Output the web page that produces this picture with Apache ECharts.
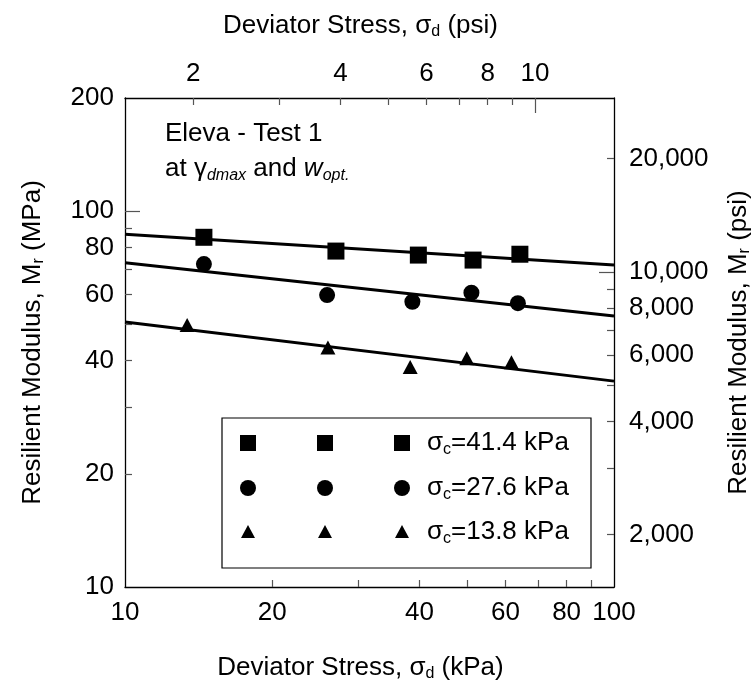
<!DOCTYPE html>
<html>
<head>
<meta charset="utf-8">
<script src="https://cdn.jsdelivr.net/npm/echarts@6/dist/echarts.min.js"></script>
<style>
html, body { margin: 0; padding: 0; background: #fff; }
#main { width: 756px; height: 689px; }
</style>
</head>
<body>
<div id="main"></div>
<script>
// unit conversions for the secondary axes
var KPA_PER_PSI = 6.895;
var PSI_PER_MPA = 145.04;

// measured points, sigma_d (kPa) vs Mr (MPa)
var sq_x = [14.5, 27.0, 39.8, 51.5, 64.2];
var sq_y = [85.2, 78.3, 76.4, 74.1, 76.8];
var ci_x = [14.5, 25.9, 38.7, 51.1, 63.6];
var ci_y = [72.3, 59.8, 57.4, 60.7, 56.9];
var tr_x = [13.4, 26.0, 38.3, 50.0, 61.7];
var tr_y = [49.8, 43.4, 38.5, 40.6, 39.6];

// fitted power lines, ends at 10 and 100 kPa
var fit_x = [10, 100];
var sq_fit = [86.8, 71.9];
var ci_fit = [72.9, 52.6];
var tr_fit = [50.7, 35.3];

var legendNames = ['41.4', '27.6', '13.8'];

// ticks
var kpaTicks = [20, 30, 40, 50, 60, 70, 80, 90];
var kpaLabels = [10, 20, 40, 60, 80, 100];
var psiTopTicks = [2, 3, 4, 5, 6, 7, 8, 9];
var psiTopLabels = [2, 4, 6, 8, 10];
var mpaTicks = [20, 30, 40, 50, 60, 70, 80, 90];
var mpaLabels = [10, 20, 40, 60, 80, 100, 200];
var psiRightTicks = [2000, 3000, 4000, 5000, 6000, 7000, 8000, 9000, 20000];
var psiRightLabels = [2000, 4000, 6000, 8000, 10000, 20000];

var FONT = '"Liberation Sans", Arial, sans-serif';
var FS = 26;
var SUB = 16;

function pairs(xs, ys) {
    var d = [];
    for (var i = 0; i < xs.length; i++) d.push([xs[i], ys[i]]);
    return d;
}

var richName = {
    a: {fontSize: FS, fontFamily: FONT, color: '#000'},
    s: {fontSize: SUB, fontFamily: FONT, color: '#000', padding: [13, 0, 0, 0]}
};

function mkAxis(pos, min, max, ticks, labels, fmt, extra) {
    var ax = {
        type: 'log', logBase: 10, position: pos, min: min, max: max,
        axisLine: {show: true, onZero: false, lineStyle: {color: '#000', width: 1.3}},
        axisTick: {show: true, inside: true, length: 7, customValues: ticks, lineStyle: {color: '#555', width: 1.2}},
        axisLabel: {show: true, customValues: labels, margin: 12, color: '#000', fontSize: FS, fontFamily: FONT, formatter: fmt},
        splitLine: {show: false},
        minorTick: {show: false}
    };
    for (var k in extra) {
        if (k === 'labelMargin') ax.axisLabel.margin = extra[k];
        else ax[k] = extra[k];
    }
    return ax;
}

function longTick(pos, min, max, vals) {
    return {
        type: 'log', logBase: 10, position: pos, min: min, max: max,
        axisLine: {show: false},
        axisTick: {show: true, inside: true, length: 15, customValues: vals, lineStyle: {color: '#555', width: 1.2}},
        axisLabel: {show: false},
        splitLine: {show: false}
    };
}

var plain = function (v) { return String(Math.round(v)); };
var comma = function (v) { return Math.round(v).toLocaleString('en-US'); };

var myChart = echarts.init(document.getElementById('main'));

var option = {
    backgroundColor: '#fff',
    animation: false,
    grid: {left: 125, right: 142, top: 98, bottom: 102, containLabel: false, outerBoundsMode: 'none'},
    xAxis: [
        mkAxis('bottom', 10, 100, kpaTicks, kpaLabels, plain, {
            labelMargin: 13,
            name: '{a|Deviator Stress, σ}{s|d}{a| (kPa)}', nameLocation: 'middle', nameGap: 66,
            nameTextStyle: {rich: richName, padding: [0, 18, 0, 0]}
        }),
        mkAxis('top', 10 / KPA_PER_PSI, 100 / KPA_PER_PSI, psiTopTicks, psiTopLabels, plain, {
            labelMargin: 11,
            name: '{a|Deviator Stress, σ}{s|d}{a| (psi)}', nameLocation: 'middle', nameGap: 58,
            nameTextStyle: {rich: richName, padding: [0, 18, 0, 0]}
        }),
        longTick('top', 10 / KPA_PER_PSI, 100 / KPA_PER_PSI, [10])
    ],
    yAxis: [
        mkAxis('left', 10, 200, mpaTicks, mpaLabels, plain, {
            labelMargin: 11,
            name: '{a|Resilient Modulus, M}{s|r}{a| (MPa)}', nameLocation: 'middle', nameGap: 78, nameRotate: 90,
            nameTextStyle: {rich: richName}
        }),
        mkAxis('right', 10 * PSI_PER_MPA, 200 * PSI_PER_MPA, psiRightTicks, psiRightLabels, comma, {
            labelMargin: 15,
            name: '{a|Resilient Modulus, M}{s|r}{a| (psi)}', nameLocation: 'middle', nameGap: 110, nameRotate: 90,
            nameTextStyle: {rich: richName}
        }),
        longTick('left', 10, 200, [100]),
        longTick('right', 10 * PSI_PER_MPA, 200 * PSI_PER_MPA, [10000])
    ],
    series: [
        {type: 'line', data: pairs(fit_x, sq_fit), showSymbol: false, lineStyle: {color: '#000', width: 3}, z: 2},
        {type: 'line', data: pairs(fit_x, ci_fit), showSymbol: false, lineStyle: {color: '#000', width: 3}, z: 2},
        {type: 'line', data: pairs(fit_x, tr_fit), showSymbol: false, lineStyle: {color: '#000', width: 3}, z: 2},
        {type: 'scatter', data: pairs(sq_x, sq_y), symbol: 'rect', symbolSize: 17, itemStyle: {color: '#000', opacity: 1}, z: 3},
        {type: 'scatter', data: pairs(ci_x, ci_y), symbol: 'circle', symbolSize: 16, itemStyle: {color: '#000', opacity: 1}, z: 3},
        {type: 'scatter', data: pairs(tr_x, tr_y), symbol: 'triangle', symbolSize: [15, 14], itemStyle: {color: '#000', opacity: 1}, z: 3}
    ],
    graphic: []
};

// annotation text
option.graphic.push({
    type: 'text', left: 165, top: 121,
    style: {text: 'Eleva - Test 1', font: FS + 'px ' + FONT, fill: '#000'}
});
option.graphic.push({
    type: 'text', left: 165, top: 156,
    style: {
        text: '{a|at γ}{b|dmax}{a| and }{c|w}{d|opt.}',
        rich: {
            a: {fontSize: FS, fontFamily: FONT, fill: '#000'},
            b: {fontSize: SUB, fontFamily: FONT, fontStyle: 'italic', fill: '#000', padding: [13, 0, 0, 0]},
            c: {fontSize: FS, fontFamily: FONT, fontStyle: 'italic', fill: '#000'},
            d: {fontSize: SUB, fontFamily: FONT, fontStyle: 'italic', fill: '#000', padding: [13, 0, 0, 0]}
        }
    }
});

// legend box
var lg = {x: 222, y: 418, w: 369, h: 150, rows: [443, 488, 532], cols: [248, 325, 402], text: 427};
option.graphic.push({
    type: 'rect', shape: {x: lg.x, y: lg.y, width: lg.w, height: lg.h},
    style: {fill: '#fff', stroke: '#000', lineWidth: 1.2}, z: 10
});
for (var r = 0; r < 3; r++) {
    var cy = lg.rows[r];
    for (var c = 0; c < 3; c++) {
        var cx = lg.cols[c];
        var shp;
        if (r === 0) shp = {type: 'rect', shape: {x: cx - 8, y: cy - 8, width: 16, height: 16}};
        else if (r === 1) shp = {type: 'circle', shape: {cx: cx, cy: cy, r: 8}};
        else shp = {type: 'polygon', shape: {points: [[cx, cy - 7], [cx + 7, cy + 6], [cx - 7, cy + 6]]}};
        shp.style = {fill: '#000'};
        shp.z = 11;
        option.graphic.push(shp);
    }
    option.graphic.push({
        type: 'text', x: lg.text, y: cy, z: 11,
        style: {
            text: '{a|σ}{s|c}{a|=' + legendNames[r] + ' kPa}',
            verticalAlign: 'middle',
            rich: {
                a: {fontSize: FS, fontFamily: FONT, fill: '#000'},
                s: {fontSize: SUB, fontFamily: FONT, fill: '#000', padding: [13, 0, 0, 0]}
            }
        }
    });
}

myChart.setOption(option);
</script>
</body>
</html>
